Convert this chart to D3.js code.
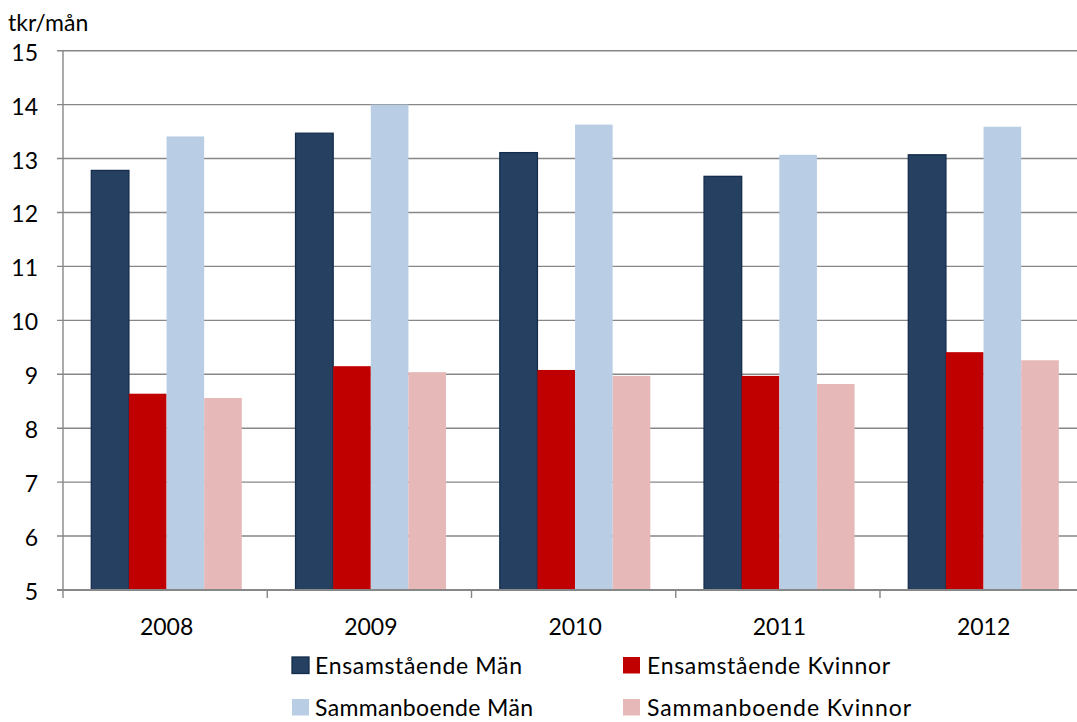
<!DOCTYPE html>
<html>
<head>
<meta charset="utf-8">
<script src="https://cdn.jsdelivr.net/npm/d3@7"></script>
<style>
  html, body { margin: 0; padding: 0; background: #fff; }
  svg { display: block; }
  text { font-family: Lato, "Open Sans", sans-serif; fill: #000; }
</style>
</head>
<body>
<svg id="chart" width="1077" height="722"></svg>
<script>
const years = ["2008", "2009", "2010", "2011", "2012"];
const seriesNames = ["Ensamstående Män", "Ensamstående Kvinnor", "Sammanboende Män", "Sammanboende Kvinnor"];
const ensamMan = [12.78, 13.47, 13.11, 12.67, 13.07];
const ensamKvinnor = [8.64, 9.15, 9.08, 8.97, 9.41];
const sammanMan = [13.41, 14.00, 13.63, 13.07, 13.59];
const sammanKvinnor = [8.56, 9.04, 8.97, 8.82, 9.26];
const yTicks = [5, 6, 7, 8, 9, 10, 11, 12, 13, 14, 15];
const unitLabel = "tkr/mån";

(function () {
const seriesValues = [ensamMan, ensamKvinnor, sammanMan, sammanKvinnor];
const colors = ["#254061", "#C00000", "#B9CDE5", "#E6B9B8"];
const strokes = ["#152d4c", "none", "none", "none"];

const svg = d3.select("#chart");
const pLeft = 63, pRight = 1084.25, pTop = 50.7, pBottom = 590;

const x0 = d3.scaleBand().domain(years).range([pLeft, pRight]).paddingInner(0).paddingOuter(0);
const x1 = d3.scaleBand().domain(seriesNames).range([28.3, 178.8]).padding(0);
const y = d3.scaleLinear().domain([5, 15]).range([pBottom, pTop]);

const gridColor = "#878787";

// gridlines
svg.append("g").selectAll("line").data(yTicks).join("line")
  .attr("x1", pLeft - 6).attr("x2", 1077)
  .attr("y1", d => y(d)).attr("y2", d => y(d))
  .attr("stroke", gridColor).attr("stroke-width", 1.4);

// y tick labels
svg.append("g").selectAll("text").data(yTicks).join("text")
  .attr("x", 38).attr("y", d => y(d) + 10)
  .attr("text-anchor", "end")
  .attr("font-size", 23)
  .text(d => d);

// unit label
svg.append("text").attr("x", 8).attr("y", 31).attr("font-size", 23).text(unitLabel);

// bars
const data = [];
years.forEach((yr, i) => {
  seriesNames.forEach((s, j) => data.push({ yr, s, j, v: seriesValues[j][i] }));
});
svg.append("g").selectAll("rect").data(data).join("rect")
  .attr("x", d => x0(d.yr) + x1(d.s))
  .attr("y", d => y(d.v))
  .attr("width", x1.bandwidth())
  .attr("height", d => y(5) - y(d.v))
  .attr("fill", d => colors[d.j])
  .attr("stroke", d => strokes[d.j])
  .attr("stroke-width", 1.3);

// axes lines
svg.append("line").attr("x1", pLeft).attr("x2", pLeft).attr("y1", pTop).attr("y2", pBottom + 8)
  .attr("stroke", gridColor).attr("stroke-width", 1.4);
svg.append("line").attr("x1", pLeft - 6).attr("x2", 1077).attr("y1", pBottom).attr("y2", pBottom)
  .attr("stroke", gridColor).attr("stroke-width", 2);
// x category boundary ticks
svg.append("g").selectAll("line").data(years.slice(1)).join("line")
  .attr("x1", d => x0(d)).attr("x2", d => x0(d))
  .attr("y1", pBottom).attr("y2", pBottom + 8)
  .attr("stroke", gridColor).attr("stroke-width", 1.4);

// x labels
svg.append("g").selectAll("text").data(years).join("text")
  .attr("x", d => x0(d) + x0.bandwidth() / 2 + 1.5)
  .attr("y", 635)
  .attr("text-anchor", "middle")
  .attr("font-size", 23)
  .text(d => d);

// legend
const legendPos = [
  { sx: 292, tx: 315, y: 657, w: 207 },
  { sx: 623, tx: 647, y: 657, w: 243 },
  { sx: 292, tx: 315, y: 699, w: 218 },
  { sx: 623, tx: 647, y: 699, w: 264 }
];
const lg = svg.append("g");
seriesNames.forEach((s, j) => {
  const p = legendPos[j];
  lg.append("rect").attr("x", p.sx).attr("y", p.y).attr("width", 17).attr("height", 16.5)
    .attr("fill", colors[j]).attr("stroke", strokes[j]).attr("stroke-width", 1.3);
  lg.append("text").attr("x", p.tx).attr("y", p.y + 17).attr("font-size", 23)
    .attr("textLength", p.w).attr("lengthAdjust", "spacing").text(s);
});
})();
</script>
</body>
</html>
